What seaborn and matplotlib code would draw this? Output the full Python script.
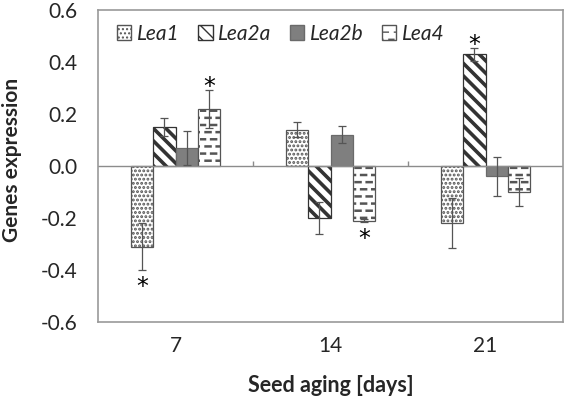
import numpy as np
import pandas as pd
import matplotlib
matplotlib.use("Agg")
import matplotlib.pyplot as plt
import matplotlib.hatch as mhatch
from matplotlib.patches import Patch
import seaborn as sns

#%% DATA
days = ["7", "14", "21"]
genes = ["Lea1", "Lea2a", "Lea2b", "Lea4"]
lea1 = [-0.31, 0.14, -0.22]
lea2a = [0.15, -0.20, 0.43]
lea2b = [0.07, 0.12, -0.04]
lea4 = [0.22, -0.21, -0.10]
lea1_err = [0.09, 0.03, 0.097]
lea2a_err = [0.034, 0.06, 0.025]
lea2b_err = [0.065, 0.032, 0.075]
lea4_err = [0.073, 0.005, 0.055]
# significance marks: (gene, day)
stars = [("Lea1", "7"), ("Lea4", "7"), ("Lea4", "14"), ("Lea2a", "21")]

values = {"Lea1": lea1, "Lea2a": lea2a, "Lea2b": lea2b, "Lea4": lea4}
errors = {"Lea1": lea1_err, "Lea2a": lea2a_err, "Lea2b": lea2b_err, "Lea4": lea4_err}

df = pd.DataFrame([(d, g, values[g][i]) for g in genes for i, d in enumerate(days)],
                  columns=["day", "gene", "expr"])


#%% custom hatches
# staggered short dashes instead of the plain '-' lines
class DashHatch(mhatch.HatchPatternBase):
    def __init__(self, hatch, density):
        self.rows = int(hatch.count('-') * 7)
        self.cols = 9
        self.num_vertices = self.rows * self.cols * 2

    def set_vertices_and_codes(self, vertices, codes):
        step = 1.0 / self.cols
        dash = 0.05
        k = 0
        for r in range(self.rows):
            y = (r + 0.5) / self.rows
            off = 0.0 if r % 2 == 0 else step / 2
            for c in range(self.cols):
                x0 = (c * step + off) % 1.0
                vertices[k] = (x0, y)
                vertices[k + 1] = (min(x0 + dash, 1.0), y)
                codes[k] = 1
                codes[k + 1] = 2
                k += 2


# denser backslash stripes
class StripeHatch(mhatch.SouthEastHatch):
    def __init__(self, hatch, density):
        n = hatch.count('\\') * 16
        self.num_lines = n
        self.num_vertices = (n + 1) * 2 if n else 0


swap = {mhatch.HorizontalHatch: DashHatch, mhatch.SouthEastHatch: StripeHatch}
mhatch._hatch_types = [swap.get(t, t) for t in mhatch._hatch_types]

#%% STYLE
sns.set_style("white")
plt.rcParams['font.family'] = ['Lato', 'DejaVu Sans']
plt.rcParams['hatch.color'] = 'black'

styles = {
    "Lea1": dict(fc="white", ec="#555555", hatch="....", hlw=1.4),
    "Lea2a": dict(fc="white", ec="#333333", hatch="\\", hlw=2.6),
    "Lea2b": dict(fc="#7f7f7f", ec="#6a6a6a", hatch=None, hlw=1.0),
    "Lea4": dict(fc="white", ec="#555555", hatch="--", hlw=1.8),
}

fig = plt.figure(figsize=(5.66, 4.01), dpi=100)
ax = fig.add_axes([98 / 566, 79 / 401, 465 / 566, 312 / 401])

sns.barplot(data=df, x="day", y="expr", hue="gene", order=days, hue_order=genes,
            width=0.575, errorbar=None, legend=False, ax=ax)

for g, cont in zip(genes, ax.containers):
    st = styles[g]
    xs = []
    for bar in cont:
        bar.set_facecolor(st["fc"])
        bar.set_edgecolor(st["ec"])
        bar.set_linewidth(0.9)
        if st["hatch"]:
            bar.set_hatch(st["hatch"])
            if hasattr(bar, "set_hatch_linewidth"):
                bar.set_hatch_linewidth(st["hlw"])
        xs.append(bar.get_x() + bar.get_width() / 2)
    ax.errorbar(xs, values[g], yerr=errors[g], fmt="none", ecolor="#555555",
                elinewidth=0.9, capsize=3, capthick=0.9, zorder=5)
    for i, d in enumerate(days):
        if (g, d) in stars:
            v = values[g][i]
            e = errors[g][i]
            ypos = v + e + 0.01 if v > 0 else v - e - 0.066
            ax.text(xs[i], ypos, "*", ha="center", va="center", fontsize=17,
                    family=["DejaVu Sans"], color="black")

ax.axhline(0, color="#8c8c8c", lw=1, zorder=1)
ax.set_ylim(-0.6, 0.6)
ax.set_xlim(-0.5, 2.5)
ax.set_yticks(np.arange(-0.6, 0.61, 0.2))
ax.set_yticklabels([f"{t:.1f}" for t in np.arange(-0.6, 0.61, 0.2)])
# category boundary ticks on the zero line
ax.vlines([0.5, 1.5], 0, 0.02, color="#8c8c8c", lw=1)

for s in ax.spines.values():
    s.set_visible(True)
    s.set_color("#999999")
    s.set_linewidth(1.2)

ax.tick_params(axis="y", direction="in", length=4, color="#999999",
               labelsize=15, pad=15)
ax.tick_params(axis="x", length=0, labelsize=15, pad=10)
ax.set_xlabel("Seed aging [days]", fontsize=15.5, fontweight="bold")
ax.set_ylabel("Genes expression", fontsize=15, fontweight="bold")
ax.xaxis.set_label_coords(0.5, -0.17)
ax.yaxis.set_label_coords(-0.163, 0.52)

handles = []
for g in genes:
    st = styles[g]
    p = Patch(facecolor=st["fc"], edgecolor=st["ec"], hatch=st["hatch"], label=g)
    handles.append(p)
leg = ax.legend(handles=handles, ncol=4, loc="upper left", frameon=False,
                bbox_to_anchor=(0.0, 1.015), handlelength=0.7, handleheight=0.7,
                handletextpad=0.25, columnspacing=0.9,
                prop={"style": "italic", "size": 15})

fig.savefig("out.png", dpi=100)
